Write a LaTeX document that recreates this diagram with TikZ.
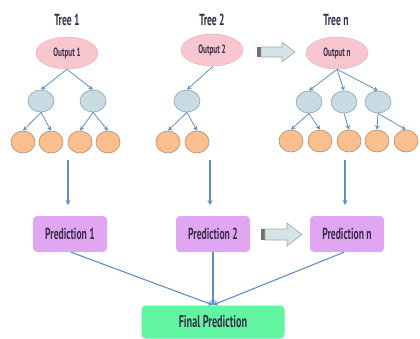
\documentclass[tikz,border=0pt]{standalone}
\usepackage{fontspec}
\setmainfont[FakeStretch=0.6]{PT Sans}
\usetikzlibrary{shapes.geometric,arrows.meta}
\definecolor{rootpink}{HTML}{F7C6CF}
\definecolor{rootedge}{HTML}{EFB3BE}
\definecolor{midblue}{HTML}{C8DAE2}
\definecolor{midedge}{HTML}{8FA3AE}
\definecolor{leafor}{HTML}{F9BF8F}
\definecolor{leafedge}{HTML}{B98A63}
\definecolor{predviolet}{HTML}{E1A6F2}
\definecolor{finalgreen}{HTML}{62F5A2}
\definecolor{arrblue}{HTML}{5E90C8}
\definecolor{txt}{HTML}{3A2D4C}
\definecolor{blockfill}{HTML}{D5E2E6}
\definecolor{blockedge}{HTML}{9AA8AD}
\definecolor{blocktail}{HTML}{6F6F6F}
\begin{document}
\begin{tikzpicture}[x=1pt,y=-1pt,
  every node/.style={text=txt},
  rootnode/.style={ellipse, fill=rootpink, draw=rootedge, line width=0.5pt, minimum width=62pt, minimum height=32pt, inner sep=0pt, font=\bfseries\fontsize{12}{14}\selectfont},
  midnode/.style={ellipse, fill=midblue, draw=midedge, line width=0.6pt, minimum width=26pt, minimum height=22pt, inner sep=0pt},
  leafnode/.style={ellipse, fill=leafor, draw=leafedge, line width=0.6pt, minimum width=24pt, minimum height=22pt, inner sep=0pt},
  prednode/.style={rectangle, rounded corners=4pt, fill=predviolet, minimum width=74pt, minimum height=36pt, inner sep=0pt, font=\bfseries\fontsize{16}{18}\selectfont},
  finalnode/.style={rectangle, rounded corners=4pt, fill=finalgreen, minimum width=143pt, minimum height=33pt, inner sep=0pt, font=\bfseries\fontsize{17}{19}\selectfont},
  titlenode/.style={font=\bfseries\fontsize{16}{18}\selectfont, inner sep=0pt},
  arr/.style={-{Stealth[length=4.5pt,width=4.5pt]}, draw=arrblue, line width=0.8pt},
  bigarr/.style={-{Stealth[length=5pt,width=5pt]}, draw=arrblue, line width=1.1pt},
  block/.style={fill=blockfill, draw=blockedge, line width=0.6pt}
]
\useasboundingbox (0,0) rectangle (420,338);
\fill[white] (0,0) rectangle (420,338);

% titles
\node[titlenode] (t1) at (67,20) {Tree 1};
\node[titlenode] (t2) at (212,20) {Tree 2};
\node[titlenode] (tn) at (336,20) {Tree n};

% roots
\node[rootnode] (r1) at (67,53) {Output 1};
\node[rootnode] (r2) at (212,50) {Output 2};
\node[rootnode] (rn) at (337,53) {Output n};

% mid nodes
\node[midnode] (m11) at (41,101) {};
\node[midnode] (m12) at (93,101) {};
\node[midnode] (m21) at (187,101) {};
\node[midnode] (mn1) at (309,102) {};
\node[midnode] (mn2) at (344,102) {};
\node[midnode] (mn3) at (378,102) {};

% leaves
\node[leafnode] (l11) at (23,142) {};
\node[leafnode] (l12) at (51,142) {};
\node[leafnode] (l13) at (80,142) {};
\node[leafnode] (l14) at (108,142) {};
\node[leafnode] (l21) at (168,142) {};
\node[leafnode] (l22) at (197,142) {};
\node[leafnode] (ln1) at (291,141) {};
\node[leafnode] (ln2) at (320,141) {};
\node[leafnode] (ln3) at (349,141) {};
\node[leafnode] (ln4) at (377,141) {};
\node[leafnode] (ln5) at (406,141) {};

% tree edges
\draw[arr] (r1.south) -- (m11.north);
\draw[arr] (r1.south) -- (m12.north);
\draw[arr] (m11.south) -- (l11.north);
\draw[arr] (m11.south) -- (l12.north);
\draw[arr] (m12.south) -- (l13.north);
\draw[arr] (m12.south) -- (l14.north);
\draw[arr] ([xshift=1pt]r2.south) -- (m21.north);
\draw[arr] (m21.south) -- (l21.north);
\draw[arr] (m21.south) -- (l22.north);
\draw[arr] (rn.south) -- (mn1.north);
\draw[arr] (rn.south) -- (mn2.north);
\draw[arr] (rn.south) -- (mn3.north);
\draw[arr] (mn1.south) -- (ln1.north);
\draw[arr] (mn1.south) -- (ln2.north);
\draw[arr] (mn2.south) -- (ln3.north);
\draw[arr] (mn3.south) -- (ln4.north);
\draw[arr] (mn3.south) -- (ln5.north);

% predictions
\node[prednode] (p1) at (70,234) {Prediction 1};
\node[prednode] (p2) at (213,234) {Prediction 2};
\node[prednode] (pn) at (347,234) {Prediction n};
\node[finalnode] (f) at (213,322) {Final Prediction};

% vertical arrows
\coordinate (v1a) at (68,160); \coordinate (v1b) at (68,205);
\coordinate (v2a) at (210,160); \coordinate (v2b) at (210,205);
\coordinate (vna) at (345,160); \coordinate (vnb) at (345,205);
\draw[bigarr] (v1a) -- (v1b);
\draw[bigarr] (v2a) -- (v2b);
\draw[bigarr] (vna) -- (vnb);

% to final
\coordinate (fin) at (213,305);
\draw[bigarr] ([xshift=1pt]p1.south) -- (fin);
\draw[bigarr] (p2.south) -- (fin);
\draw[bigarr] ([xshift=-3pt]pn.south) -- (fin);

% block arrows
\fill[blocktail] (257,47) rectangle (261,57);
\draw[block] (261,47) -- (282,47) -- (282,42) -- (295,52) -- (282,62) -- (282,57) -- (261,57) -- cycle;
\fill[blocktail] (261,229) rectangle (265,240);
\draw[block] (265,229) -- (287,229) -- (287,223) -- (302,234.5) -- (287,246) -- (287,240) -- (265,240) -- cycle;
\end{tikzpicture}
\end{document}
